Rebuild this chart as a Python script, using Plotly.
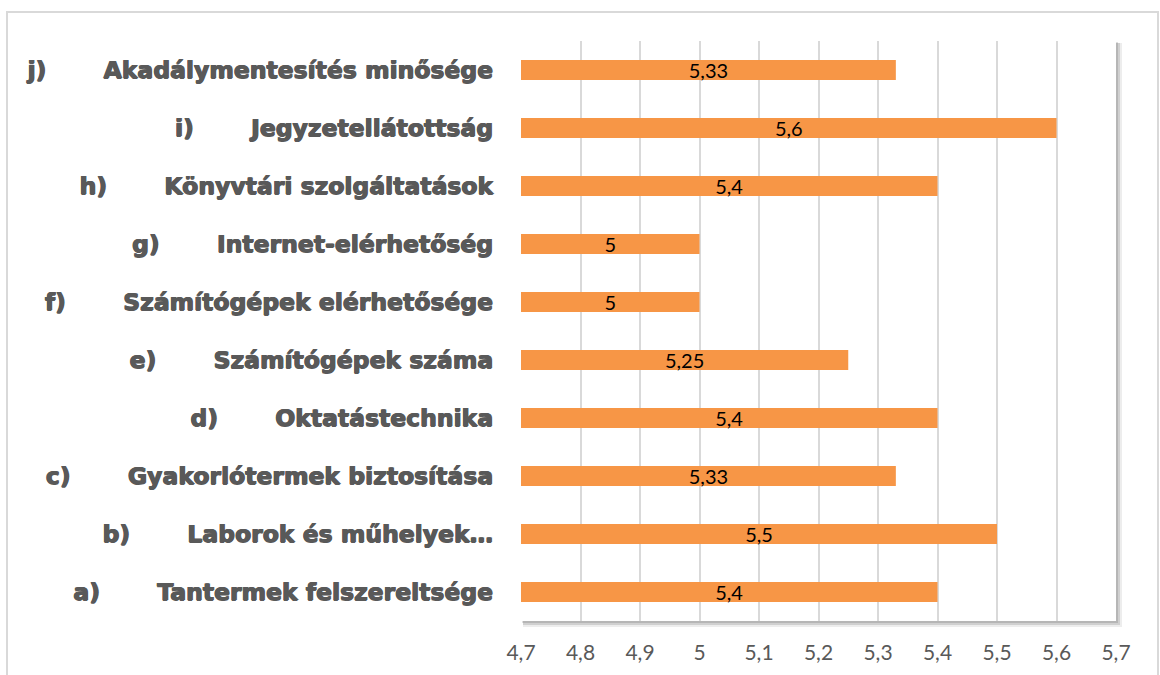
import plotly.graph_objects as go

prefixes = ["a)", "b)", "c)", "d)", "e)", "f)", "g)", "h)", "i)", "j)"]
names = [
    "Tantermek felszereltsége",
    "Laborok és műhelyek…",
    "Gyakorlótermek biztosítása",
    "Oktatástechnika",
    "Számítógépek száma",
    "Számítógépek elérhetősége",
    "Internet-elérhetőség",
    "Könyvtári szolgáltatások",
    "Jegyzetellátottság",
    "Akadálymentesítés minősége",
]
values = [5.4, 5.5, 5.33, 5.4, 5.25, 5.0, 5.0, 5.4, 5.6, 5.33]
value_labels = ["5,4", "5,5", "5,33", "5,4", "5,25", "5", "5", "5,4", "5,6", "5,33"]
tick_vals = [4.7, 4.8, 4.9, 5.0, 5.1, 5.2, 5.3, 5.4, 5.5, 5.6, 5.7]
tick_labels = ["4,7", "4,8", "4,9", "5", "5,1", "5,2", "5,3", "5,4", "5,5", "5,6", "5,7"]
axis_min = 4.7
axis_max = 5.7

gap = "\u00a0" * 7
cat_labels = [p + gap + n for p, n in zip(prefixes, names)]

fig = go.Figure()
fig.add_trace(go.Bar(
    x=[v - axis_min for v in values],
    base=axis_min,
    y=cat_labels,
    orientation="h",
    marker=dict(color="#F79646", line=dict(width=0)),
    width=0.345,
    text=value_labels,
    textposition="inside",
    insidetextanchor="middle",
    textangle=0,
    constraintext="none",
    textfont=dict(family="Lato, Liberation Sans, sans-serif", size=20, color="#000000"),
    hoverinfo="skip",
))

W = 595.0
H = 580.0
shapes = [
    # outer chart border
    dict(type="rect", xref="paper", yref="paper",
         x0=(7 - 521) / W, x1=(1158 - 521) / W, y0=(621 - 690) / H, y1=(621 - 12) / H,
         line=dict(color="#D9D9D9", width=2), fillcolor="rgba(0,0,0,0)", layer="below"),
    # plot area shadow
    dict(type="rect", xref="paper", yref="paper",
         x0=2 / W, x1=1 + 6 / W, y0=-6 / H, y1=1 - 2 / H,
         line=dict(width=0), fillcolor="rgba(0,0,0,0.07)", layer="below"),
    dict(type="rect", xref="paper", yref="paper",
         x0=2 / W, x1=1 + 4 / W, y0=-4 / H, y1=1 - 2 / H,
         line=dict(width=0), fillcolor="rgba(0,0,0,0.12)", layer="below"),
    dict(type="rect", xref="paper", yref="paper",
         x0=1 / W, x1=1 + 2 / W, y0=-2 / H, y1=1 - 1 / H,
         line=dict(width=0), fillcolor="rgba(0,0,0,0.12)", layer="below"),
    # plot area background
    dict(type="rect", xref="paper", yref="paper",
         x0=0, x1=1, y0=0, y1=1,
         line=dict(width=0), fillcolor="#FFFFFF", layer="below"),
]

fig.update_layout(
    width=1160,
    height=675,
    margin=dict(l=521, r=44, t=41, b=54, pad=0),
    paper_bgcolor="#FFFFFF",
    plot_bgcolor="rgba(0,0,0,0)",
    showlegend=False,
    shapes=shapes,
    xaxis=dict(
        range=[axis_min, axis_max],
        tickvals=tick_vals,
        ticktext=tick_labels,
        showgrid=True,
        gridcolor="#D9D9D9",
        gridwidth=2,
        zeroline=False,
        showline=False,
        ticks="",
        ticklabelstandoff=17,
        tickfont=dict(family="Lato, Liberation Sans, sans-serif", size=21, color="#595959"),
        fixedrange=True,
    ),
    yaxis=dict(
        type="category",
        categoryorder="array",
        categoryarray=cat_labels,
        showgrid=False,
        zeroline=False,
        showline=False,
        ticks="",
        ticklabelstandoff=27,
        tickfont=dict(family="DejaVu Sans, sans-serif", size=23.5, color="#595959", weight="bold",
                      shadow="0.8px 0 0 #595959, -0.4px 0 0 #595959, 0 0.4px 0 #595959"),
        fixedrange=True,
    ),
)

fig.write_html("out.html", config={"displayModeBar": False},
               post_script="document.body.style.margin='0';")
